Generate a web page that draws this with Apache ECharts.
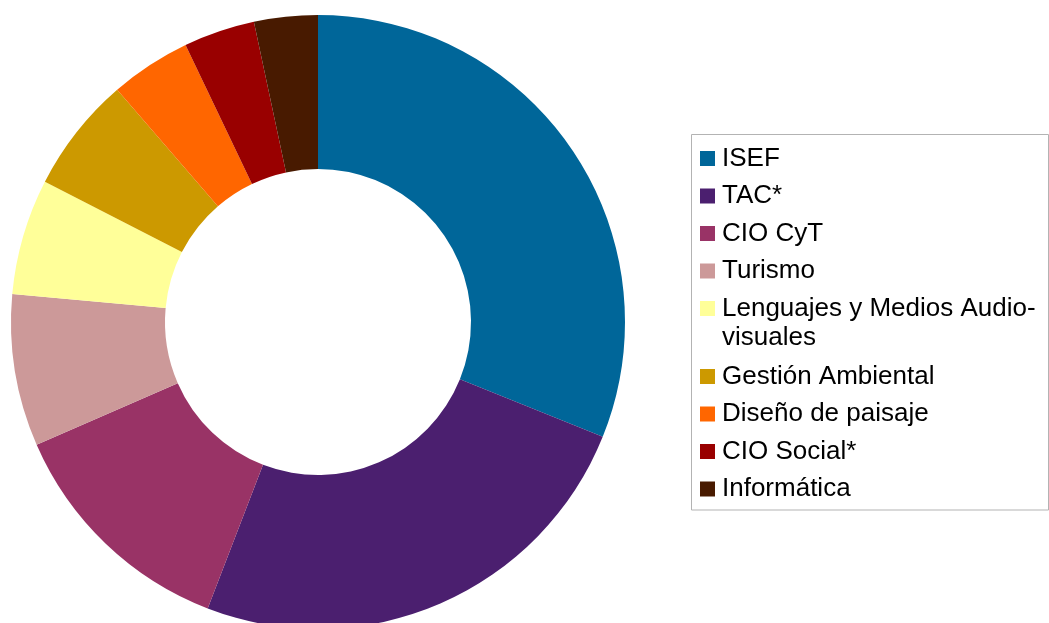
<!DOCTYPE html>
<html>
<head>
<meta charset="utf-8">
<script src="https://cdn.jsdelivr.net/npm/echarts@6/dist/echarts.min.js"></script>
<style>
html,body{margin:0;padding:0;background:#fff;}
#chart{width:1049px;height:623px;}
</style>
</head>
<body>
<div id="chart"></div>
<script>
const categories = ['ISEF', 'TAC*', 'CIO CyT', 'Turismo', 'Lenguajes y Medios Audio-visuales', 'Gestión Ambiental', 'Diseño de paisaje', 'CIO Social*', 'Informática'];
const values = [31.1, 24.75, 12.6, 8.0, 6.1, 6.1, 4.25, 3.75, 3.35];
const colors = ['#006699', '#4b1f6f', '#993366', '#cc9999', '#ffff99', '#cc9900', '#ff6600', '#990000', '#481a00'];
const legendGroup1 = categories.slice(0, 5);
const legendGroup2 = categories.slice(5);

const FONT = 'Liberation Sans, Arial, sans-serif';
const FS = 26;

const chart = echarts.init(document.getElementById('chart'), null, {renderer: 'canvas'});

const legendCommon = {
  orient: 'vertical',
  left: 700,
  padding: 0,
  itemWidth: 15,
  itemHeight: 15,
  itemGap: 7.5,
  icon: 'rect',
  selectedMode: false,
  textStyle: {fontFamily: FONT, fontSize: FS, color: '#000', lineHeight: 30, padding: [0, 0, 0, 2]}
};

chart.setOption({
  animation: false,
  backgroundColor: '#fff',
  color: colors,
  legend: [
    Object.assign({}, legendCommon, {
      top: 143.5,
      data: legendGroup1,
      formatter: function (name) {
        return name === 'Lenguajes y Medios Audio-visuales' ? 'Lenguajes y Medios Audio-' : name;
      }
    }),
    Object.assign({}, legendCommon, {
      top: 361.5,
      data: legendGroup2
    })
  ],
  graphic: [
    {
      type: 'rect',
      shape: {x: 691.5, y: 134.5, width: 357, height: 375.5},
      style: {fill: 'none', stroke: '#b3b3b3', lineWidth: 1},
      silent: true
    },
    {
      type: 'text',
      x: 722,
      y: 338,
      style: {text: 'visuales', font: FS + 'px ' + FONT, fill: '#000', verticalAlign: 'middle'},
      silent: true
    }
  ],
  series: [{
    type: 'pie',
    center: [318, 322],
    radius: [153, 307],
    startAngle: 90,
    clockwise: true,
    avoidLabelOverlap: false,
    label: {show: false},
    labelLine: {show: false},
    emphasis: {disabled: true},
    itemStyle: {borderWidth: 0},
    data: categories.map((c, i) => ({name: c, value: values[i]}))
  }]
});
</script>
</body>
</html>
